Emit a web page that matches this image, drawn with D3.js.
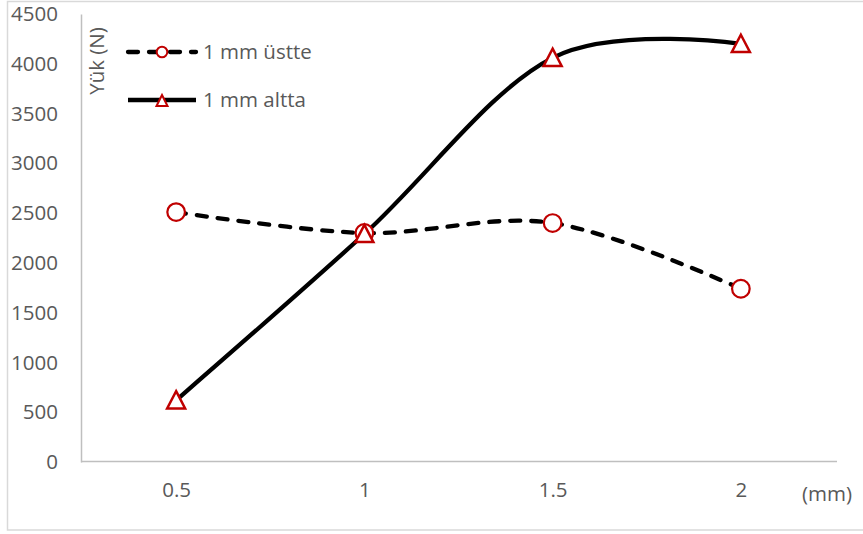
<!DOCTYPE html>
<html>
<head>
<meta charset="utf-8">
<script src="https://cdn.jsdelivr.net/npm/d3@7"></script>
<style>
  html, body { margin: 0; padding: 0; background: #fff; }
  svg { display: block; font-family: "Open Sans", "Noto Sans", sans-serif; }
</style>
</head>
<body>
<svg id="chart" width="863" height="534"></svg>
<script>
// Load (N) against spacing (mm) for two placements
const categories = ["0.5", "1", "1.5", "2"];
const ustte = [2510, 2300, 2400, 1740];   // 1 mm üstte
const altta = [620, 2290, 4060, 4200];    // 1 mm altta
const yTicks = [0, 500, 1000, 1500, 2000, 2500, 3000, 3500, 4000, 4500];
const seriesNames = ["1 mm üstte", "1 mm altta"];

const svg = d3.select("#chart");
const textColor = "#595959";
const axisColor = "#bfbfbf";
const markerRed = "#c00000";
const fontSize = 20.5;

// chart frame
svg.append("rect")
  .attr("x", 7.5).attr("y", 1.5)
  .attr("width", 870).attr("height", 528.5)
  .attr("fill", "#fff").attr("stroke", "#d9d9d9").attr("stroke-width", 1.5);

const x = d3.scalePoint().domain(categories).range([82, 835]).padding(0.5);
const y = d3.scaleLinear().domain([0, 4500]).range([462, 14]);

// y axis (line + labels, no tick marks)
const yAxis = d3.axisLeft(y).tickValues(yTicks).tickSize(0).tickPadding(23).tickFormat(d3.format("d"));
const gy = svg.append("g").attr("transform", "translate(81,0)").call(yAxis);
gy.select(".domain").attr("stroke", axisColor).attr("stroke-width", 1.5);
gy.selectAll("text").attr("fill", textColor).attr("font-size", fontSize)
  .attr("font-family", "Open Sans, sans-serif");

// x axis
const xAxis = d3.axisBottom(x).tickSize(0).tickPadding(21);
const gx = svg.append("g").attr("transform", "translate(0,461.5)").call(xAxis);
gx.select(".domain").attr("stroke", axisColor).attr("stroke-width", 1.5)
  .attr("d", "M81,0H837");
gx.selectAll("text").attr("fill", textColor).attr("font-size", fontSize)
  .attr("font-family", "Open Sans, sans-serif");

// axis titles
svg.append("text")
  .attr("transform", "translate(104,61) rotate(-90)")
  .attr("text-anchor", "middle")
  .attr("fill", textColor).attr("font-size", fontSize)
  .text("Yük (N)");
svg.append("text")
  .attr("x", 827).attr("y", 501)
  .attr("text-anchor", "middle")
  .attr("fill", textColor).attr("font-size", fontSize)
  .text("(mm)");

const line = d3.line()
  .x((d, i) => x(categories[i]))
  .y(d => y(d))
  .curve(d3.curveCardinal.tension(0));

const triPath = s => {
  const h = s * 0.9;
  return `M0,${-h / 2 - 1}L${s / 2},${h / 2}L${-s / 2},${h / 2}Z`;
};

// dashed series
svg.append("path").datum(ustte)
  .attr("d", line).attr("fill", "none")
  .attr("stroke", "#000").attr("stroke-width", 4.3)
  .attr("stroke-dasharray", "10,11").attr("stroke-linecap", "round");

// solid series
svg.append("path").datum(altta)
  .attr("d", line).attr("fill", "none")
  .attr("stroke", "#000").attr("stroke-width", 4.3);

// circle markers
svg.append("g").selectAll("circle").data(ustte).join("circle")
  .attr("cx", (d, i) => x(categories[i]))
  .attr("cy", d => y(d))
  .attr("r", 8.8)
  .attr("fill", "#fff").attr("stroke", markerRed).attr("stroke-width", 2.2);

// triangle markers
svg.append("g").selectAll("path").data(altta).join("path")
  .attr("transform", (d, i) => `translate(${x(categories[i])},${y(d)})`)
  .attr("d", triPath(18))
  .attr("fill", "#fff").attr("stroke", markerRed).attr("stroke-width", 2.5)
  .attr("stroke-linejoin", "miter");

// legend
const legend = svg.append("g");
const legendRows = [
  { name: seriesNames[0], y: 52, dashed: true, marker: "circle" },
  { name: seriesNames[1], y: 100, dashed: false, marker: "triangle" }
];
legendRows.forEach(r => {
  legend.append("line")
    .attr("x1", 128).attr("x2", 196).attr("y1", r.y).attr("y2", r.y)
    .attr("stroke", "#000").attr("stroke-width", 4.3)
    .attr("stroke-dasharray", r.dashed ? "10,11" : null)
    .attr("stroke-linecap", r.dashed ? "round" : "butt");
  if (r.marker === "circle") {
    legend.append("circle").attr("cx", 162).attr("cy", r.y).attr("r", 5.3)
      .attr("fill", "#fff").attr("stroke", markerRed).attr("stroke-width", 2);
  } else {
    legend.append("path").attr("transform", `translate(162,${r.y + 1})`)
      .attr("d", triPath(11))
      .attr("fill", "#fff").attr("stroke", markerRed).attr("stroke-width", 2);
  }
  legend.append("text").attr("x", 203).attr("y", r.y).attr("dy", "0.35em")
    .attr("fill", textColor).attr("font-size", fontSize).text(r.name);
});
</script>
</body>
</html>
